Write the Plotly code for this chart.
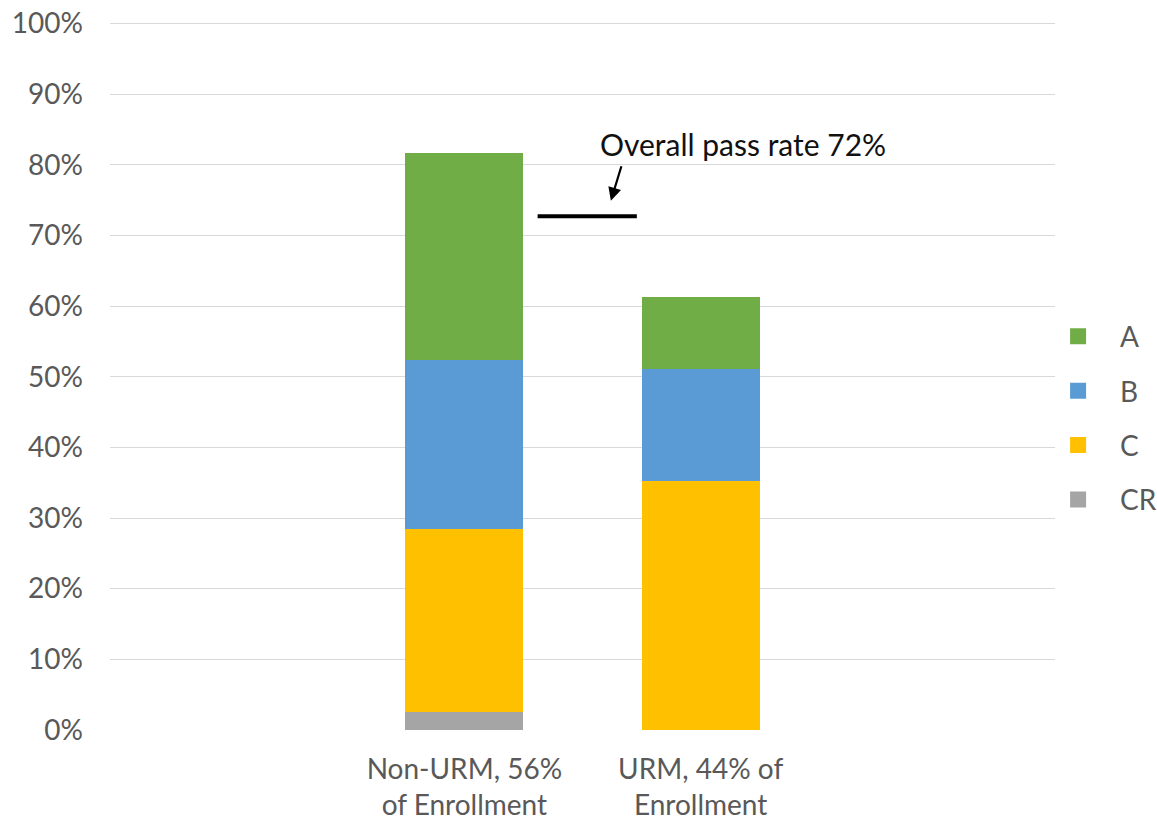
import plotly.graph_objects as go

# Data (percent of students)
groups = ["Non-URM, 56%<br>of Enrollment", "URM, 44% of<br>Enrollment"]
group_pos = [1, 2]
grades = ["CR", "C", "B", "A"]
legend_order = ["A", "B", "C", "CR"]
cr_vals = [2.6, 0.0]
c_vals = [25.8, 35.2]
b_vals = [23.9, 15.9]
a_vals = [29.3, 10.2]
overall_pass_rate = 72.7
overall_label = "Overall pass rate 72%"
y_ticks = list(range(0, 101, 10))
y_ticktext = [f"{v}%" for v in y_ticks]

colors = {"A": "#70AD47", "B": "#5B9BD5", "C": "#FFC000", "CR": "#A5A5A5"}
series = {"CR": cr_vals, "C": c_vals, "B": b_vals, "A": a_vals}

FONT = "Lato, Calibri, Arial, sans-serif"
TXT = "#595959"
FS = 28

fig = go.Figure()
for g in grades:
    fig.add_trace(go.Bar(
        x=group_pos, y=series[g], name=g,
        marker=dict(color=colors[g], line=dict(width=0)),
        width=0.5, showlegend=False,
    ))
# legend entries with larger square swatches
for g in legend_order:
    fig.add_trace(go.Scatter(
        x=[None], y=[None], mode="markers", name=g,
        marker=dict(color=colors[g], symbol="square", size=18),
        legendgroup=g, showlegend=True,
    ))

fig.add_trace(go.Scatter(
    x=[1.31, 1.73], y=[overall_pass_rate, overall_pass_rate],
    mode="lines", line=dict(color="black", width=4),
    showlegend=False, hoverinfo="skip",
))

fig.add_annotation(
    x=1.62, y=overall_pass_rate + 2.2, xref="x", yref="y",
    ax=11, ay=-36, axref="pixel", ayref="pixel",
    text="", showarrow=True, arrowhead=2, arrowsize=1.2, arrowwidth=2.2,
    arrowcolor="black",
)
fig.add_annotation(
    x=2.18, y=83.0, xref="x", yref="y", text=overall_label,
    showarrow=False, font=dict(size=30, color="#111111", family=FONT),
)

fig.update_layout(
    width=1157, height=825,
    margin=dict(l=110, r=102, t=22, b=95, autoexpand=False),
    plot_bgcolor="white", paper_bgcolor="white",
    barmode="stack", bargap=0,
    font=dict(family=FONT, size=FS, color=TXT),
    showlegend=True,
    legend=dict(
        traceorder="grouped", xref="container", yref="container",
        x=0.8955, y=0.4933, xanchor="left", yanchor="middle",
        font=dict(size=FS, color=TXT), tracegroupgap=15,
        itemwidth=74, bgcolor="rgba(0,0,0,0)",
    ),
    xaxis=dict(
        range=[-0.5, 3.5], tickvals=group_pos, ticktext=groups,
        showgrid=False, zeroline=False, showline=False, ticks="",
        tickfont=dict(size=FS, color=TXT), ticklabelstandoff=20, automargin=False,
    ),
    yaxis=dict(
        range=[0, 100.2], tickvals=y_ticks, ticktext=y_ticktext,
        showgrid=True, gridcolor="#D9D9D9", gridwidth=1, zeroline=False,
        showline=False, ticks="", ticklabelstandoff=26, automargin=False,
        tickfont=dict(size=FS, color=TXT),
    ),
)

fig.write_html("out.html")
